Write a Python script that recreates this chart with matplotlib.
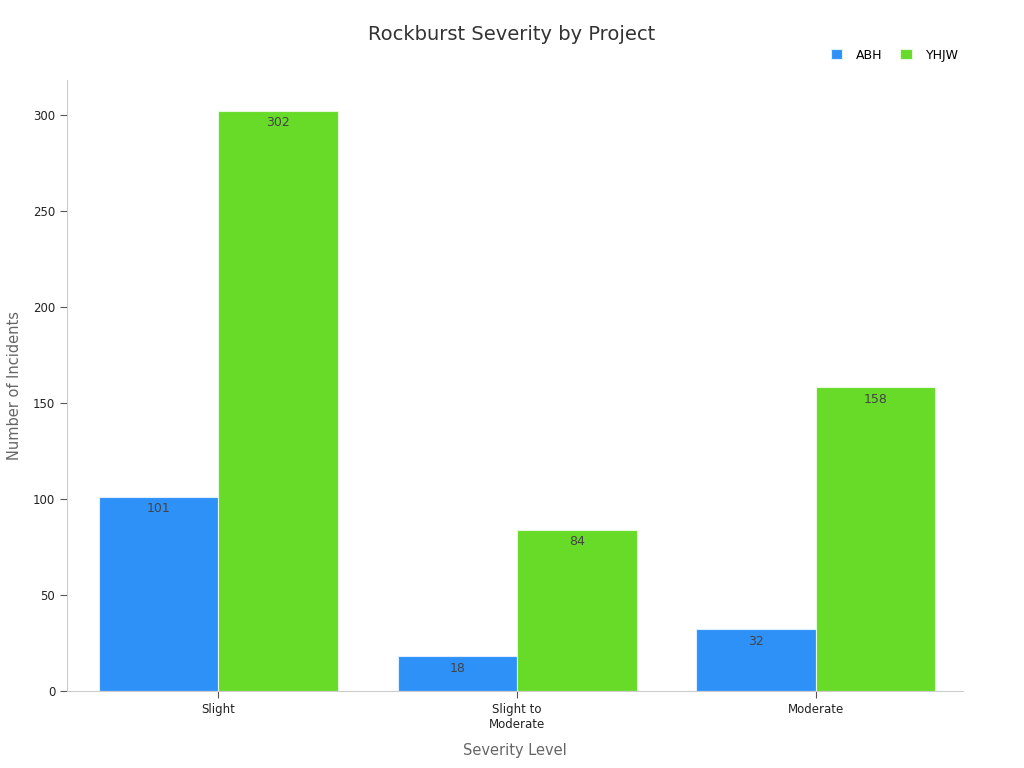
import numpy as np
import matplotlib
matplotlib.use("Agg")
import matplotlib.pyplot as plt

# data
categories = ["Slight", "Slight to\nModerate", "Moderate"]
abh = [101, 18, 32]
yhjw = [302, 84, 158]
series_names = ["ABH", "YHJW"]
colors = ["#2E91F8", "#67DB28"]

fig = plt.figure(figsize=(10.24, 7.68), dpi=100)
ax = fig.add_axes([0.0654, 0.1003, 0.875, 0.7955])

x = np.arange(len(categories))
w = 0.4
b1 = ax.bar(x - w / 2, abh, w, color=colors[0], edgecolor="#dceeff", linewidth=0.8, label=series_names[0])
b2 = ax.bar(x + w / 2, yhjw, w, color=colors[1], edgecolor="#e6f8dc", linewidth=0.8, label=series_names[1])

for bars in (b1, b2):
    for r in bars:
        ax.annotate(f"{int(r.get_height())}", (r.get_x() + r.get_width() / 2, r.get_height()),
                    xytext=(0, -4), textcoords="offset points", ha="center", va="top",
                    fontsize=9, color="#444444")

ax.set_xlim(-0.507, 2.493)
ax.set_ylim(0, 318)
ax.set_yticks([0, 50, 100, 150, 200, 250, 300])
ax.set_xticks(x)
ax.set_xticklabels(categories, fontsize=8.5, color="#222222")
ax.tick_params(axis="y", labelsize=8.5, labelcolor="#222222", color="#555555", length=5)
ax.tick_params(axis="x", color="#555555", length=5)

for s in ["top", "right"]:
    ax.spines[s].set_visible(False)
for s in ["left", "bottom"]:
    ax.spines[s].set_color("#cccccc")

ax.set_xlabel("Severity Level", fontsize=10.5, color="#666666", labelpad=9)
ax.set_ylabel("Number of Incidents", fontsize=10.5, color="#666666", labelpad=8)
fig.suptitle("Rockburst Severity by Project", fontsize=14, color="#333333", y=0.968)

ax.legend(loc="upper right", bbox_to_anchor=(1.008, 1.07), ncol=2, frameon=False,
          fontsize=9, handlelength=0.9, handleheight=0.9, columnspacing=1.4, handletextpad=1.15)

fig.savefig("out.png", dpi=100)
